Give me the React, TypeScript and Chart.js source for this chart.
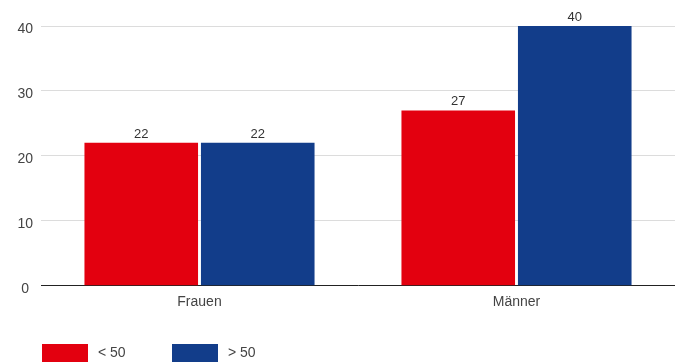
import React, { useEffect, useRef } from "react";
import { Chart, registerables } from "chart.js";

Chart.register(...registerables);

const categories = ["Frauen", "Männer"];
const seriesLabels = ["< 50", "> 50"];
const under50 = [22, 27];
const over50 = [22, 40];
const seriesColors = ["#e3000f", "#123d8a"];
const yTicks = [0, 10, 20, 30, 40];

const FONT = "'Liberation Sans', Arial, Helvetica, sans-serif";

// Value labels above each bar
const valueLabels = {
  id: "valueLabels",
  afterDatasetsDraw(chart: any) {
    const { ctx } = chart;
    ctx.save();
    ctx.font = `13px ${FONT}`;
    ctx.fillStyle = "#333";
    ctx.textAlign = "center";
    ctx.textBaseline = "alphabetic";
    chart.data.datasets.forEach((ds: any, i: number) => {
      const meta = chart.getDatasetMeta(i);
      meta.data.forEach((bar: any, j: number) => {
        ctx.fillText(String(ds.data[j]), bar.x, bar.y - 5);
      });
    });
    ctx.restore();
  },
};

// Legend row along the bottom edge
const bottomLegend = {
  id: "bottomLegend",
  afterDraw(chart: any) {
    const { ctx } = chart;
    const h = chart.height;
    ctx.save();
    ctx.font = `14px ${FONT}`;
    ctx.textBaseline = "middle";
    ctx.textAlign = "left";
    chart.data.datasets.forEach((ds: any, i: number) => {
      const x = 42 + i * 130;
      ctx.fillStyle = ds.backgroundColor;
      ctx.fillRect(x, h - 18, 46, 18);
      ctx.fillStyle = "#444";
      ctx.fillText(ds.label, x + 56, h - 9);
    });
    ctx.restore();
  },
};

export default function App() {
  const canvasRef = useRef<HTMLCanvasElement | null>(null);

  useEffect(() => {
    document.body.style.margin = "0";
    document.body.style.overflow = "hidden";
    const canvas = canvasRef.current;
    if (!canvas) return;
    const chart = new Chart(canvas, {
      type: "bar",
      data: {
        labels: categories,
        datasets: [
          {
            label: seriesLabels[0],
            data: under50,
            backgroundColor: seriesColors[0],
            borderWidth: 0,
          },
          {
            label: seriesLabels[1],
            data: over50,
            backgroundColor: seriesColors[1],
            borderWidth: 0,
          },
        ],
      },
      options: {
        animation: false,
        responsive: false,
        devicePixelRatio: 1,
        layout: { padding: { top: 26, bottom: 43.5, left: 0, right: 0 } },
        plugins: {
          legend: { display: false },
          tooltip: { enabled: false },
        },
        datasets: {
          bar: { categoryPercentage: 0.735, barPercentage: 0.975 },
        },
        scales: {
          x: {
            grid: { display: false, drawTicks: false },
            border: { display: true, color: "#222", width: 1 },
            ticks: {
              color: "#444",
              font: { family: FONT, size: 14 },
              padding: 8,
            },
          },
          y: {
            min: 0,
            max: 40,
            afterBuildTicks: (scale: any) => {
              scale.ticks = yTicks.map((v) => ({ value: v }));
            },
            afterFit: (scale: any) => {
              scale.width = 41;
            },
            grid: { color: "#dcdcdc", lineWidth: 1, drawTicks: false },
            border: { display: false },
            ticks: {
              color: "#444",
              font: { family: FONT, size: 14 },
              padding: 8,
              labelOffset: 3,
              crossAlign: "center",
            },
          },
        },
      },
      plugins: [valueLabels, bottomLegend],
    });
    return () => chart.destroy();
  }, []);

  return (
    <div style={{ width: 675, height: 362, overflow: "hidden" }}>
      <canvas ref={canvasRef} width={675} height={362} style={{ display: "block" }} />
    </div>
  );
}
